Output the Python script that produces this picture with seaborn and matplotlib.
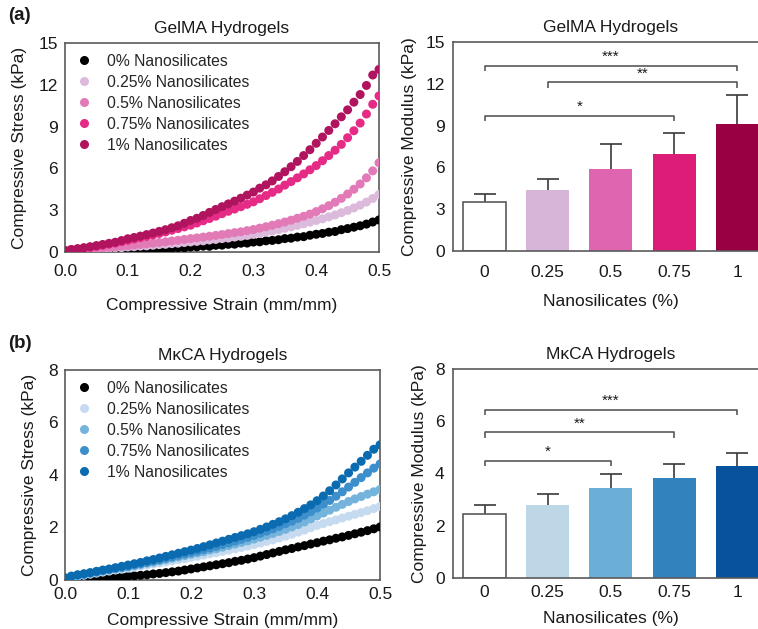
import numpy as np
import pandas as pd
import matplotlib
matplotlib.use("Agg")
import matplotlib.pyplot as plt
from matplotlib.lines import Line2D
import seaborn as sns

sns.set_theme(style="white")
plt.rcParams['font.family'] = ['Liberation Sans', 'DejaVu Sans']

# ---------------- data ----------------
strain = [0.00, 0.01, 0.02, 0.03, 0.04, 0.05, 0.06, 0.07, 0.08, 0.09,
          0.10, 0.11, 0.12, 0.13, 0.14, 0.15, 0.16, 0.17, 0.18, 0.19,
          0.20, 0.21, 0.22, 0.23, 0.24, 0.25, 0.26, 0.27, 0.28, 0.29,
          0.30, 0.31, 0.32, 0.33, 0.34, 0.35, 0.36, 0.37, 0.38, 0.39,
          0.40, 0.41, 0.42, 0.43, 0.44, 0.45, 0.46, 0.47, 0.48, 0.49, 0.50]

series_labels = ["0% Nanosilicates", "0.25% Nanosilicates", "0.5% Nanosilicates",
                 "0.75% Nanosilicates", "1% Nanosilicates"]

gelma_0 = [0.03, 0.06, 0.04, 0.07, 0.05, 0.09, 0.08, 0.11, 0.10, 0.14,
           0.13, 0.17, 0.16, 0.20, 0.19, 0.23, 0.26, 0.25, 0.31, 0.30,
           0.36, 0.37, 0.42, 0.41, 0.48, 0.49, 0.55, 0.56, 0.63, 0.64,
           0.71, 0.73, 0.80, 0.83, 0.88, 0.96, 0.99, 1.07, 1.10, 1.20,
           1.27, 1.33, 1.42, 1.47, 1.60, 1.68, 1.78, 1.88, 2.00, 2.15, 2.30]
gelma_025 = [0.10, 0.13, 0.15, 0.16, 0.20, 0.21, 0.25, 0.26, 0.30, 0.31,
             0.36, 0.38, 0.42, 0.44, 0.48, 0.53, 0.55, 0.60, 0.63, 0.68,
             0.72, 0.76, 0.80, 0.86, 0.90, 0.96, 1.00, 1.07, 1.12, 1.19,
             1.26, 1.33, 1.42, 1.50, 1.60, 1.70, 1.80, 1.91, 2.02, 2.14,
             2.26, 2.38, 2.52, 2.66, 2.82, 2.98, 3.16, 3.36, 3.58, 3.84, 4.12]
gelma_05 = [0.12, 0.15, 0.17, 0.21, 0.22, 0.26, 0.29, 0.33, 0.36, 0.41,
            0.45, 0.49, 0.54, 0.58, 0.63, 0.68, 0.73, 0.79, 0.84, 0.90,
            0.96, 1.01, 1.07, 1.13, 1.19, 1.25, 1.32, 1.39, 1.45, 1.53,
            1.61, 1.71, 1.81, 1.92, 2.03, 2.15, 2.28, 2.42, 2.56, 2.72,
            2.90, 3.10, 3.32, 3.57, 3.85, 4.16, 4.50, 4.88, 5.32, 5.82, 6.40]
gelma_075 = [0.08, 0.14, 0.20, 0.27, 0.33, 0.40, 0.48, 0.56, 0.64, 0.74,
             0.84, 0.93, 1.03, 1.12, 1.22, 1.33, 1.44, 1.56, 1.68, 1.80,
             1.92, 2.08, 2.24, 2.40, 2.57, 2.75, 2.92, 3.08, 3.25, 3.42,
             3.60, 3.82, 4.05, 4.28, 4.52, 4.80, 5.05, 5.32, 5.60, 5.90,
             6.20, 6.55, 6.92, 7.30, 7.72, 8.20, 8.70, 9.25, 9.90, 10.60, 11.20]
gelma_1 = [0.10, 0.18, 0.24, 0.31, 0.38, 0.46, 0.54, 0.62, 0.70, 0.82,
           0.95, 1.04, 1.14, 1.25, 1.36, 1.48, 1.60, 1.74, 1.88, 2.06,
           2.26, 2.42, 2.62, 2.84, 3.05, 3.25, 3.45, 3.65, 3.86, 4.08,
           4.30, 4.58, 4.82, 5.10, 5.42, 5.76, 6.12, 6.50, 6.92, 7.34,
           7.80, 8.25, 8.72, 9.20, 9.70, 10.20, 10.75, 11.30, 11.95, 12.70, 13.10]

mkca_0 = [0.02, 0.03, 0.02, 0.05, 0.04, 0.06, 0.08, 0.07, 0.10, 0.12,
          0.14, 0.16, 0.18, 0.20, 0.23, 0.25, 0.28, 0.31, 0.34, 0.38,
          0.42, 0.46, 0.50, 0.54, 0.58, 0.62, 0.66, 0.71, 0.75, 0.80,
          0.85, 0.91, 0.97, 1.03, 1.09, 1.15, 1.20, 1.26, 1.31, 1.37,
          1.42, 1.48, 1.53, 1.59, 1.64, 1.70, 1.76, 1.82, 1.88, 1.95, 2.02]
mkca_025 = [0.06, 0.10, 0.14, 0.18, 0.22, 0.26, 0.30, 0.34, 0.38, 0.41,
            0.45, 0.49, 0.53, 0.57, 0.61, 0.65, 0.69, 0.73, 0.77, 0.81,
            0.86, 0.90, 0.95, 1.00, 1.04, 1.09, 1.14, 1.19, 1.24, 1.29,
            1.35, 1.41, 1.47, 1.53, 1.60, 1.67, 1.74, 1.82, 1.90, 1.99,
            2.08, 2.15, 2.22, 2.29, 2.36, 2.43, 2.50, 2.57, 2.64, 2.72, 2.80]
mkca_05 = [0.07, 0.12, 0.17, 0.21, 0.25, 0.29, 0.34, 0.38, 0.42, 0.46,
           0.50, 0.55, 0.59, 0.64, 0.68, 0.73, 0.78, 0.83, 0.88, 0.93,
           0.98, 1.03, 1.08, 1.14, 1.19, 1.25, 1.31, 1.37, 1.43, 1.49,
           1.56, 1.63, 1.70, 1.77, 1.85, 1.93, 2.02, 2.11, 2.21, 2.32,
           2.44, 2.55, 2.66, 2.77, 2.88, 2.99, 3.09, 3.18, 3.27, 3.36, 3.45]
mkca_075 = [0.08, 0.13, 0.18, 0.22, 0.27, 0.31, 0.36, 0.40, 0.44, 0.48,
            0.52, 0.57, 0.62, 0.67, 0.72, 0.77, 0.83, 0.88, 0.94, 0.99,
            1.05, 1.10, 1.16, 1.22, 1.28, 1.35, 1.41, 1.48, 1.55, 1.62,
            1.70, 1.78, 1.86, 1.95, 2.04, 2.14, 2.24, 2.35, 2.47, 2.60,
            2.74, 2.88, 3.03, 3.19, 3.36, 3.54, 3.72, 3.90, 4.08, 4.26, 4.42]
mkca_1 = [0.08, 0.15, 0.20, 0.24, 0.28, 0.33, 0.38, 0.42, 0.47, 0.52,
          0.57, 0.62, 0.67, 0.73, 0.78, 0.84, 0.90, 0.96, 1.02, 1.08,
          1.14, 1.20, 1.27, 1.34, 1.41, 1.48, 1.55, 1.62, 1.69, 1.76,
          1.84, 1.93, 2.02, 2.12, 2.22, 2.33, 2.45, 2.58, 2.72, 2.86,
          3.02, 3.20, 3.40, 3.62, 3.85, 4.08, 4.30, 4.52, 4.75, 4.98, 5.15]

bar_categories = ["0", "0.25", "0.5", "0.75", "1"]
gelma_modulus = [3.52, 4.35, 5.86, 6.99, 9.14]
gelma_modulus_err = [0.55, 0.85, 1.80, 1.48, 2.08]
mkca_modulus = [2.43, 2.79, 3.46, 3.82, 4.30]
mkca_modulus_err = [0.36, 0.44, 0.52, 0.56, 0.50]

# significance brackets: (from category index, to category index, height, label)
gelma_sig = [(0, 4, 13.3, "***"), (1, 4, 12.1, "**"), (0, 3, 9.7, "*")]
mkca_sig = [(0, 4, 6.44, "***"), (0, 3, 5.57, "**"), (0, 2, 4.49, "*")]

gelma_scatter_colors = ["#000000", "#dcbadc", "#e27ab8", "#e52b85", "#b0145f"]
gelma_bar_colors = ["#ffffff", "#d7b5d8", "#df65b0", "#dd1c77", "#980043"]
mkca_scatter_colors = ["#000000", "#c6dbef", "#74b4dc", "#3d8fcc", "#0b6bb0"]
mkca_bar_colors = ["#ffffff", "#bdd7e7", "#6baed6", "#3182bd", "#08519c"]

SPINE = "#5a5a5a"
TXT = "#1a1a1a"

fig = plt.figure(figsize=(7.58, 6.29), dpi=100)
ax1 = fig.add_axes([0.0858, 0.5994, 0.4142, 0.3323])
ax2 = fig.add_axes([0.5976, 0.6010, 0.4169, 0.3323])
ax3 = fig.add_axes([0.0858, 0.0779, 0.4156, 0.3339])
ax4 = fig.add_axes([0.5976, 0.0811, 0.4169, 0.3323])


def style_axes(ax):
    for sp in ax.spines.values():
        sp.set_visible(True)
        sp.set_color(SPINE)
        sp.set_linewidth(1.2)


def scatter_panel(ax, curves, colors, title, ymax, ystep, xpad, labelpad):
    frames = []
    for lab, vals in zip(series_labels, curves):
        frames.append(pd.DataFrame({"strain": strain, "stress": vals, "group": lab}))
    df = pd.concat(frames, ignore_index=True)
    sns.scatterplot(data=df, x="strain", y="stress", hue="group",
                    hue_order=series_labels, palette=colors, s=42,
                    linewidth=0, alpha=1.0, legend=False, ax=ax, zorder=3)
    ax.set_xlim(0, 0.5)
    ax.set_ylim(0, ymax)
    ax.set_xticks([0.0, 0.1, 0.2, 0.3, 0.4, 0.5])
    ax.set_xticklabels(["0.0", "0.1", "0.2", "0.3", "0.4", "0.5"])
    ax.set_yticks(np.arange(0, ymax + 0.01, ystep))
    ax.set_yticklabels([f"{int(v)}" for v in np.arange(0, ymax + 0.01, ystep)])
    style_axes(ax)
    ax.tick_params(axis="both", labelsize=12.5, colors=SPINE, labelcolor=TXT,
                   length=3, width=1)
    ax.tick_params(axis="x", direction="in", pad=xpad)
    ax.tick_params(axis="y", direction="out", pad=2)
    ax.set_xlabel("Compressive Strain (mm/mm)", fontsize=12.5, color=TXT,
                  labelpad=labelpad)
    ax.set_ylabel("Compressive Stress (kPa)", fontsize=12.5, color=TXT, labelpad=8)
    ax.set_title(title, fontsize=12.5, color=TXT, pad=7)
    handles = [Line2D([0], [0], marker="o", linestyle="", markersize=6.5,
                      markerfacecolor=c, markeredgewidth=0) for c in colors]
    ax.legend(handles, series_labels, loc="upper left", frameon=False,
              fontsize=11.3, handletextpad=0.45, labelspacing=0.38,
              borderaxespad=0.5, bbox_to_anchor=(-0.035, 1.015))


def bar_panel(ax, means, errs, colors, sig, title, ymax, ystep, xpad, labelpad,
              star_off, drop):
    df = pd.DataFrame({"conc": bar_categories, "mod": means})
    sns.barplot(data=df, x="conc", y="mod", hue="conc", order=bar_categories,
                hue_order=bar_categories, palette=colors, width=0.68,
                legend=False, ax=ax, saturation=1, zorder=2)
    for i, p in enumerate(ax.patches):
        p.set_edgecolor(SPINE if i == 0 else "none")
        p.set_linewidth(1.2)
    xs = np.arange(len(bar_categories))
    eb = ax.errorbar(xs, means, yerr=[np.zeros(len(errs)), errs], fmt="none",
                     ecolor="#3a3a3a", elinewidth=1.2, capsize=8, capthick=1.2,
                     zorder=1)
    # hide the lower caps (error bars point upward only)
    if len(eb[1]) >= 2:
        eb[1][0].set_visible(False)
    for a, b, h, lab in sig:
        ax.plot([a, a, b, b], [h - drop, h, h, h - drop], color="#4a4a4a",
                lw=1.1, solid_capstyle="butt", zorder=3)
        ax.text((a + b) / 2, h + star_off, lab, ha="center", va="center",
                fontsize=11, color=TXT)
    ax.set_xlim(-0.5, 4.5)
    ax.set_ylim(0, ymax)
    ax.set_yticks(np.arange(0, ymax + 0.01, ystep))
    ax.set_yticklabels([f"{int(v)}" for v in np.arange(0, ymax + 0.01, ystep)])
    style_axes(ax)
    ax.tick_params(axis="both", labelsize=12.5, colors=SPINE, labelcolor=TXT,
                   width=1)
    ax.tick_params(axis="x", length=0, pad=xpad)
    ax.tick_params(axis="y", length=0, pad=6)
    ax.set_xlabel("Nanosilicates (%)", fontsize=12.5, color=TXT, labelpad=labelpad)
    ax.set_ylabel("Compressive Modulus (kPa)", fontsize=12.5, color=TXT, labelpad=6)
    ax.set_title(title, fontsize=12.5, color=TXT, pad=7)


scatter_panel(ax1, [gelma_0, gelma_025, gelma_05, gelma_075, gelma_1],
              gelma_scatter_colors, "GelMA Hydrogels", 15, 3, 9, 13)
bar_panel(ax2, gelma_modulus, gelma_modulus_err, gelma_bar_colors, gelma_sig,
          "GelMA Hydrogels", 15, 3, 10, 10, 0.62, 0.38)
scatter_panel(ax3, [mkca_0, mkca_025, mkca_05, mkca_075, mkca_1],
              mkca_scatter_colors, "M\u03baCA Hydrogels", 8, 2, 5, 8)
bar_panel(ax4, mkca_modulus, mkca_modulus_err, mkca_bar_colors, mkca_sig,
          "M\u03baCA Hydrogels", 8, 2, 5, 8, 0.33, 0.2)

fig.text(8 / 758, 1 - 15 / 629, "(a)", fontsize=13.5, fontweight="bold",
         va="center", ha="left", color=TXT)
fig.text(8 / 758, 1 - 343 / 629, "(b)", fontsize=13.5, fontweight="bold",
         va="center", ha="left", color=TXT)

fig.savefig("out.png", dpi=100)
